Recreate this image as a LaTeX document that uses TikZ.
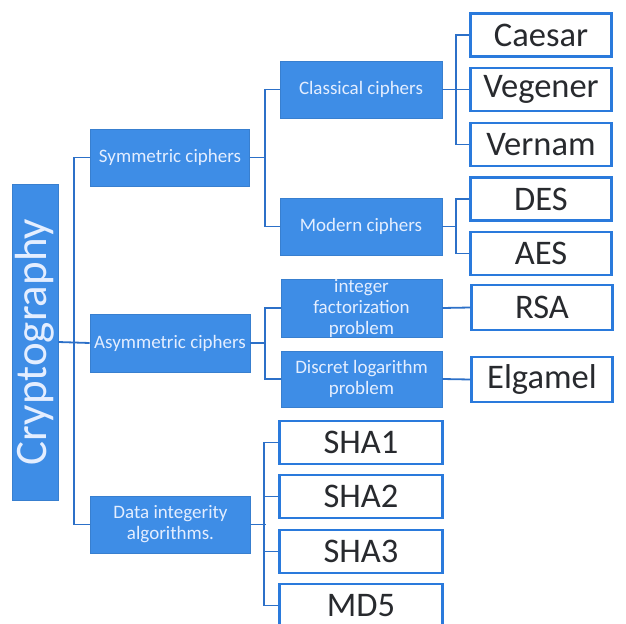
\documentclass[tikz,border=0pt]{standalone}
\usepackage{fontspec}
\setmainfont{Carlito}
\definecolor{boxblue}{RGB}{62,141,230}
\definecolor{lineblue}{RGB}{44,112,200}
\definecolor{rimblue}{RGB}{42,122,220}
\definecolor{paletext}{RGB}{228,238,255}
\definecolor{darktext}{RGB}{40,42,46}
\begin{document}
\begin{tikzpicture}[x=1bp,y=-1bp,
  bluebox/.style={fill=boxblue, draw=boxblue!90!black, line width=0.6bp,
    text=paletext, align=center, inner sep=1bp,
    font=\fontsize{19bp}{21bp}\selectfont},
  leafbox/.style={fill=white, draw=rimblue, line width=2.4bp, text=darktext,
    minimum width=141bp, minimum height=43bp, inner sep=0bp,
    font=\fontsize{34.5bp}{36bp}\selectfont},
  hashbox/.style={leafbox, minimum width=163bp},
  wire/.style={draw=lineblue, line width=1.8bp}]
\useasboundingbox (0,0) rectangle (626,624);
\fill[white] (0,0) rectangle (626,624);

% root
\node[bluebox, rotate=90, minimum width=316bp, minimum height=46bp,
  font=\fontsize{45bp}{46bp}\selectfont] (crypto) at (35,342) {Cryptography};

% second level
\node[bluebox, minimum width=159bp, minimum height=57bp] (sym) at (170,157.5) {Symmetric ciphers};
\node[bluebox, minimum width=160bp, minimum height=58bp] (asym) at (170,343) {Asymmetric ciphers};
\node[bluebox, minimum width=160bp, minimum height=57bp] (data) at (170.5,524.5) {Data integerity\\algorithms.};

% third level
\node[bluebox, minimum width=162bp, minimum height=57bp] (classical) at (361,89.5) {Classical ciphers};
\node[bluebox, minimum width=162bp, minimum height=57bp] (modern) at (361,226.5) {Modern ciphers};
\node[bluebox, minimum width=161bp, minimum height=58bp, inner sep=0bp] (intfact) at (361.5,308) {integer\\factorization\\problem};
\node[bluebox, minimum width=161bp, minimum height=56bp] (dlog) at (361.5,379) {Discret logarithm\\problem};

% leaves
\node[leafbox] (caesar) at (541,35) {Caesar};
\node[leafbox] (vegener) at (541,89.5) {Vegener};
\node[leafbox] (vernam) at (541,144.5) {Vernam};
\node[leafbox] (des) at (541,199) {DES};
\node[leafbox] (aes) at (541,253.5) {AES};
\node[leafbox, minimum height=45bp] (rsa) at (542,307.5) {RSA};
\node[leafbox, minimum height=45bp] (elgamel) at (542,379.5) {Elgamel};
\node[hashbox] (sha1) at (361,442.5) {SHA1};
\node[hashbox] (sha2) at (361,496.5) {SHA2};
\node[hashbox] (sha3) at (361,551.5) {SHA3};
\node[hashbox] (md5) at (361,605.5) {MD5};

% root connectors
\draw[wire] (sym.west) -- ++(-16,0) |- (data.west);
\draw[wire] (crypto.south) -- (asym.west);

% symmetric branch
\draw[wire] (sym.east) -- ++(16,0);
\draw[wire] (classical.west) -- ++(-15,0) |- (modern.west);
\draw[wire] (caesar.west) -- ++(-13,0) |- (vernam.west);
\draw[wire] (classical.east) -- (vegener.west);
\draw[wire] (des.west) -- ++(-13,0) |- (aes.west);
\draw[wire] (modern.east) -- ++(15,0);

% asymmetric branch
\draw[wire] (asym.east) -- ++(15,0);
\draw[wire] (intfact.west) -- ++(-16,0) |- (dlog.west);
\draw[wire] (intfact.east) -- (rsa.west);
\draw[wire] (dlog.east) -- (elgamel.west);

% integrity branch
\draw[wire] (data.east) -- ++(15,0);
\draw[wire] (sha1.west) -- ++(-14,0) |- (md5.west);
\draw[wire] (sha2.west) -- ++(-14,0);
\draw[wire] (sha3.west) -- ++(-14,0);
\end{tikzpicture}
\end{document}
